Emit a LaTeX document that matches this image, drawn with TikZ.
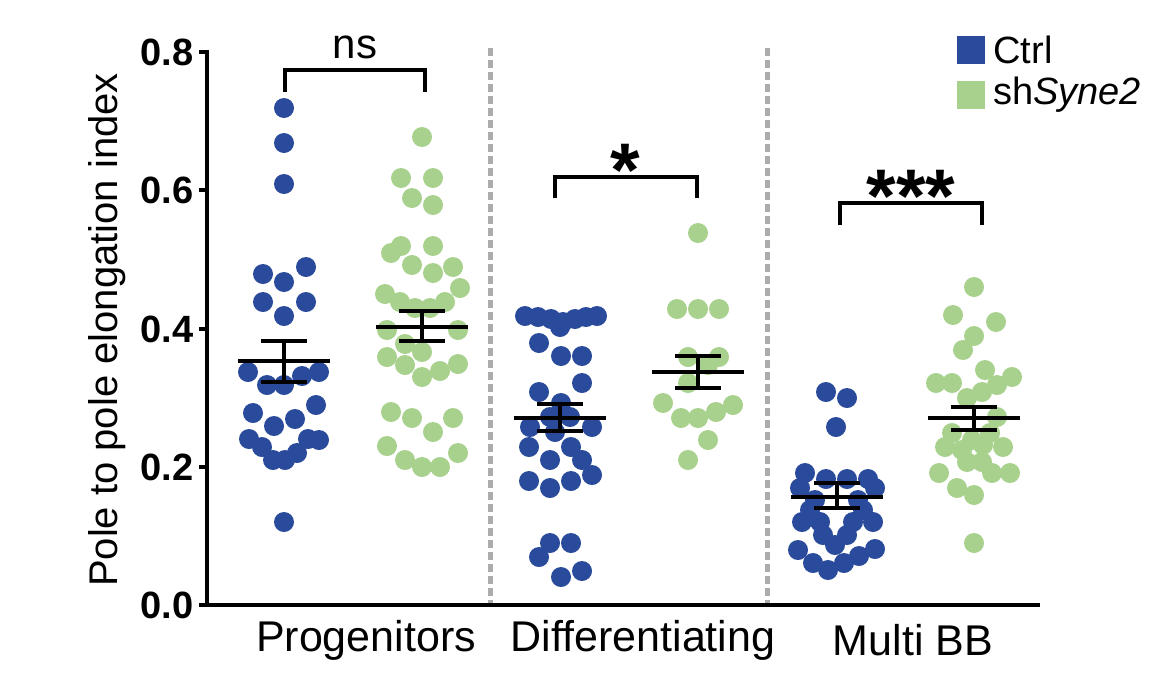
\documentclass[tikz,border=0pt]{standalone}
\usepackage{fontspec}
\setmainfont{Liberation Sans}
\usetikzlibrary{positioning}
\definecolor{ctrlblue}{HTML}{2A4B9B}
\definecolor{shgreen}{HTML}{A9D18E}
\newcommand{\meanbar}[4]{% x, mean y, lower cap y, upper cap y
  \draw[barline] (#1-46,#2) -- (#1+46,#2);
  \draw[barline] (#1,#3) -- (#1,#4);
  \draw[barline] (#1-23,#3) -- (#1+23,#3);
  \draw[barline] (#1-23,#4) -- (#1+23,#4);}
\begin{document}
\begin{tikzpicture}[x=1pt,y=-1pt,
    ctrldot/.style={fill=ctrlblue},
    shdot/.style={fill=shgreen},
    barline/.style={line width=4pt},
    axisline/.style={line width=3.5pt},
    sepline/.style={line width=5pt, gray!65, dash pattern=on 8pt off 4pt},
    ticklabel/.style={anchor=east, font=\fontsize{38}{40}\selectfont\bfseries},
    catlabel/.style={font=\fontsize{43}{46}\selectfont},
    sigmark/.style={font=\fontsize{76}{78}\selectfont\bfseries}]
    \useasboundingbox (0,0) rectangle (1172,683);

    % separators
    \draw[sepline] (490,48) -- (490,605);
    \draw[sepline] (767,48) -- (767,605);

    % Progenitors
    \foreach \x/\y in {284/108,284/143,284/184,263/274,284/282,306/267,263/302,306/302,284/316,
        248/372,267/385,284/385,302/376,319/372,253/413,274/426,295/419,316/405,
        249/439,262/447,273/460,285/460,297/453,308/439,319/440,284/522}
        \fill[ctrldot] (\x,\y) circle (10);
    \foreach \x/\y in {422/137,401/178,433/178,412/198,433/205,391/253,401/246,433/246,412/265,
        433/273,453/267,460/288,385/294,400/302,415/308,430/308,445/302,387/330,458/330,
        405/344,422/352,387/357,405/365,422/377,440/371,458/364,391/412,412/418,433/432,
        453/418,387/446,405/460,422/467,440/467,458/453}
        \fill[shdot] (\x,\y) circle (10);
    \meanbar{284}{361}{382}{341}
    \meanbar{422}{327}{341}{311}

    % Differentiating
    \foreach \x/\y in {525/316,538/317,551/319,563/322,575/319,586/317,597/316,560/327,
        539/343,561/356,582/356,539/392,582/383,561/403,550/417,570/417,530/427,592/427,
        555/432,529/447,571/447,550/460,582/460,592/475,529/481,550/488,571/481,
        550/543,571/543,539/557,561/577,582/571}
        \fill[ctrldot] (\x,\y) circle (10);
    \foreach \x/\y in {698/233,677/309,698/309,719/309,688/357,719/357,708/365,688/383,
        663/403,681/418,698/418,716/412,733/405,708/440,688/460}
        \fill[shdot] (\x,\y) circle (10);
    \meanbar{560}{418}{431}{404}
    \meanbar{698}{372}{388}{356}

    % Multi BB
    \foreach \x/\y in {826/392,847/398,836/427,805/473,826/479,847/479,868/479,800/488,875/488,
        815/500,858/500,810/510,863/510,802/522,820/522,853/522,873/522,823/535,847/535,
        835/545,798/550,813/563,828/570,844/563,859/556,875/549}
        \fill[ctrldot] (\x,\y) circle (10);
    \foreach \x/\y in {974/287,953/315,996/322,974/336,963/350,985/370,936/383,952/383,
        1012/377,997/385,982/392,967/398,997/417,952/433,972/440,990/433,945/447,962/450,
        983/445,1003/447,967/462,982/462,939/473,992/473,1010/473,957/488,974/495,974/543}
        \fill[shdot] (\x,\y) circle (10);
    \meanbar{837}{497}{508}{483}
    \meanbar{974}{418}{430}{407}

    % axes
    \draw[axisline] (207,50) -- (207,605) -- (1040,605);
    \foreach \v/\y in {0.8/52,0.6/190,0.4/329,0.2/467,0.0/605} {
        \draw[axisline] (199,\y) -- (207,\y);
        \node[ticklabel] at (197,\y) {\v};
    }
    \node[rotate=90, font=\fontsize{40}{44}\selectfont] (ylab) at (107,330) {Pole to pole elongation index};

    % categories
    \node[catlabel] (prog) at (366,640) {Progenitors};
    \node[catlabel] (diff) at (643,640) {Differentiating};
    \node[catlabel] (multi) at (913,640) {Multi BB};

    % significance
    \draw[line width=3.5pt] (285,92) -- (285,70) -- (425,70) -- (425,92);
    \node[font=\fontsize{42}{44}\selectfont] (ns) at (355,47) {ns};
    \draw[line width=3.5pt] (555,198) -- (555,177) -- (697,177) -- (697,198);
    \node[sigmark] (one) at (625,170) {*};
    \draw[line width=3.5pt] (840,225) -- (840,203) -- (982,203) -- (982,225);
    \node[sigmark] (three) at (911,196) {***};

    % legend
    \fill[ctrldot] (957,36) rectangle (985,64);
    \node[anchor=west, font=\fontsize{38}{40}\selectfont] (lctrl) at (990,50) {Ctrl};
    \fill[shdot] (957,81) rectangle (985,109);
    \node[anchor=west, font=\fontsize{38}{40}\selectfont, inner xsep=0pt] (lsh) at (993,95) {sh\textit{Syne2}};
\end{tikzpicture}
\end{document}
